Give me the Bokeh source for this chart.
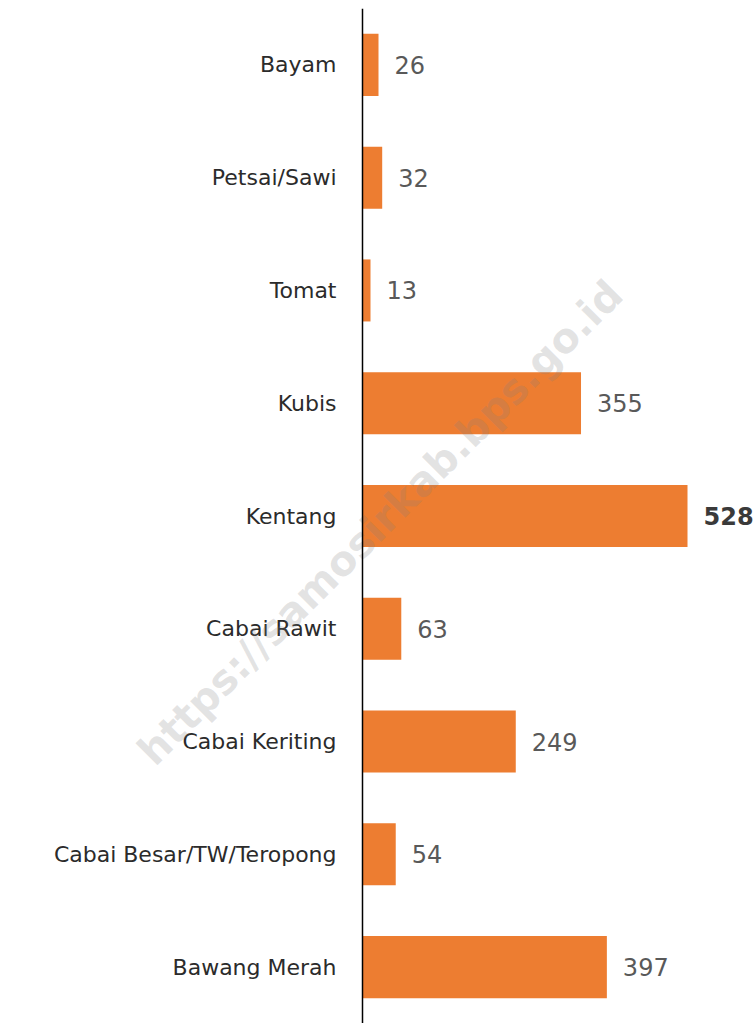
from bokeh.plotting import figure
from bokeh.models import ColumnDataSource, Range1d, FactorRange, Span
from bokeh.core.properties import value
from bokeh.embed import file_html
from bokeh.resources import INLINE
import math

categories = ["Bayam", "Petsai/Sawi", "Tomat", "Kubis", "Kentang", "Cabai Rawit",
              "Cabai Keriting", "Cabai Besar/TW/Teropong", "Bawang Merah"]
values = [26, 32, 13, 355, 528, 63, 249, 54, 397]
label_styles = ["normal", "normal", "normal", "normal", "bold", "normal", "normal", "normal", "normal"]
label_colors = ["#595959", "#595959", "#595959", "#595959", "#3a3a3a", "#595959", "#595959", "#595959", "#595959"]
watermark = "https://samosirkab.bps.go.id"

FONT = "DejaVu Sans"
W, H = 754, 1023
AXIS_PX = 362
PX_PER_UNIT = 325 / 528

src = ColumnDataSource(dict(cat=categories, val=values, zero=[0] * len(values),
                            lbl=[str(v) for v in values],
                            style=label_styles, color=label_colors))

p = figure(width=W, height=H, output_backend="svg", toolbar_location=None,
           y_range=FactorRange(factors=list(reversed(categories)), range_padding=0),
           x_range=Range1d(-AXIS_PX / PX_PER_UNIT, (W - AXIS_PX) / PX_PER_UNIT),
           min_border=0, min_border_top=8)
p.outline_line_color = None
p.grid.visible = False
p.axis.visible = False

p.hbar(y="cat", right="val", left=0, height=0.55, source=src,
       fill_color="#ED7D31", line_color=None)

# category labels (left of the axis line)
p.text(x="zero", y="cat", text="cat", source=src, x_offset=-26,
       text_font=value(FONT), text_font_size="22px", text_color="#2b2b2b",
       text_baseline="middle", text_align="right")

# value labels
p.text(x="val", y="cat", text="lbl", source=src, x_offset=16,
       text_font=value(FONT), text_font_size="24px", text_color="color",
       text_font_style="style", text_baseline="middle", text_align="left")

p.add_layout(Span(location=0, dimension="height", line_color="black", line_width=1.5))

p.text(x=[29], y=[4.44], text=[watermark], angle=math.pi / 4,
       text_font=value(FONT), text_font_size="41px", text_font_style="bold",
       text_color="#808080", text_alpha=0.22, text_align="center", text_baseline="middle")

open("out.html", "w").write(file_html(p, INLINE))
